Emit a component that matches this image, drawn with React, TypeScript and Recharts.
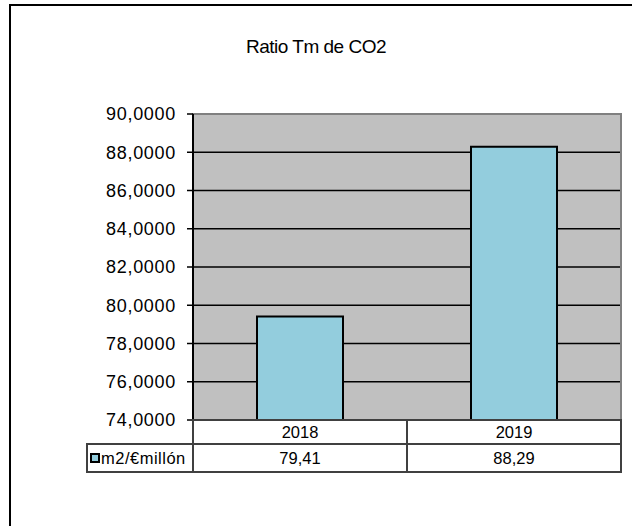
import React from 'react';
import { BarChart, Bar, XAxis, YAxis, CartesianGrid, ReferenceArea } from 'recharts';

const categories: string[] = ['2018', '2019'];
const seriesName = 'm2/€millón';
const seriesValues: number[] = [79.41, 88.29];
const yTicks: number[] = [74, 76, 78, 80, 82, 84, 86, 88, 90];
const title = 'Ratio Tm de CO2';

const data = categories.map((c, i) => ({ year: c, value: seriesValues[i] }));

const W = 632;
const H = 526;
const MARGIN = { top: 114, right: 11, bottom: 54, left: 0 };
const Y_AXIS_W = 193;
const X_AXIS_H = 52;
const PLOT_LEFT = MARGIN.left + Y_AXIS_W;
const PLOT_RIGHT = W - MARGIN.right;
const BAND = (PLOT_RIGHT - PLOT_LEFT) / categories.length;
const ROW1_H = 24;
const ROW2_H = 28;
const LEGEND_LEFT = 87;
const FONT = "'Liberation Sans', Arial, sans-serif";
const BAR_FILL = '#93CDDD';
const TABLE_STROKE = '#404040';

const fmtTick = (v: number) => v.toFixed(4).replace('.', ',');
const fmtVal = (v: number) => v.toFixed(2).replace('.', ',');

const TableTick = (props: any) => {
  const { x, y, payload, index } = props;
  const left = x - BAND / 2;
  const y0 = y;
  const val = seriesValues[index];
  return (
    <g>
      <rect x={left} y={y0} width={BAND} height={ROW1_H} fill="#fff" stroke={TABLE_STROKE} strokeWidth={2} />
      <rect x={left} y={y0 + ROW1_H} width={BAND} height={ROW2_H} fill="#fff" stroke={TABLE_STROKE} strokeWidth={2} />
      <text x={x} y={y0 + 18} textAnchor="middle" fontSize={16.5} fill="#000" fontFamily={FONT}>
        {payload.value}
      </text>
      <text x={x} y={y0 + ROW1_H + 20} textAnchor="middle" fontSize={16.5} fill="#000" fontFamily={FONT}>
        {fmtVal(val)}
      </text>
      {index === 0 && (
        <g>
          <rect x={LEGEND_LEFT} y={y0 + ROW1_H} width={left - LEGEND_LEFT} height={ROW2_H} fill="#fff" stroke={TABLE_STROKE} strokeWidth={2} />
          <rect x={LEGEND_LEFT + 4} y={y0 + ROW1_H + 10} width={8} height={8} fill={BAR_FILL} stroke="#000" strokeWidth={2} />
          <text x={LEGEND_LEFT + 14} y={y0 + ROW1_H + 20} textAnchor="start" fontSize={16.5} letterSpacing={0.5} fill="#000" fontFamily={FONT}>
            {seriesName}
          </text>
        </g>
      )}
    </g>
  );
};

export default function App() {
  return (
    <div style={{ position: 'absolute', left: 0, top: 0, width: W, height: H, background: '#fff', overflow: 'hidden' }}>
      <div
        style={{
          position: 'absolute',
          left: 9,
          top: 4,
          width: W + 20,
          height: H + 20,
          borderLeft: '2px solid #000',
          borderTop: '2px solid #000',
        }}
      />
      <div
        style={{
          position: 'absolute',
          left: 0,
          top: 36,
          width: W,
          textAlign: 'center',
          fontFamily: FONT,
          fontSize: 19,
          letterSpacing: -0.5,
          color: '#000',
        }}
      >
        {title}
      </div>
      <div style={{ position: 'absolute', left: 0, top: 0 }}>
        <BarChart width={W} height={H} data={data} margin={MARGIN} barCategoryGap={0}>
          <CartesianGrid
            vertical={false}
            fill="#c0c0c0"
            fillOpacity={1}
            stroke="#000"
            strokeWidth={1.5}
            horizontalValues={yTicks.slice(1, -1)}
          />
          <ReferenceArea y1={yTicks[0]} y2={yTicks[yTicks.length - 1]} fill="none" stroke="#808080" strokeWidth={2} />
          <XAxis
            dataKey="year"
            height={X_AXIS_H}
            axisLine={false}
            tickLine={false}
            tickSize={0}
            tickMargin={0}
            interval={0}
            tick={<TableTick />}
          />
          <YAxis
            width={Y_AXIS_W}
            domain={[yTicks[0], yTicks[yTicks.length - 1]]}
            ticks={yTicks}
            interval={0}
            allowDataOverflow
            tickFormatter={fmtTick}
            tick={{ fontSize: 18, fill: '#000', fontFamily: FONT, letterSpacing: 0.7 }}
            axisLine={{ stroke: '#000', strokeWidth: 2 }}
            tickLine={{ stroke: '#000', strokeWidth: 1.5 }}
            tickSize={6}
            tickMargin={11}
          />
          <Bar dataKey="value" fill={BAR_FILL} stroke="#000" strokeWidth={2} barSize={86} isAnimationActive={false} />
        </BarChart>
      </div>
    </div>
  );
}
